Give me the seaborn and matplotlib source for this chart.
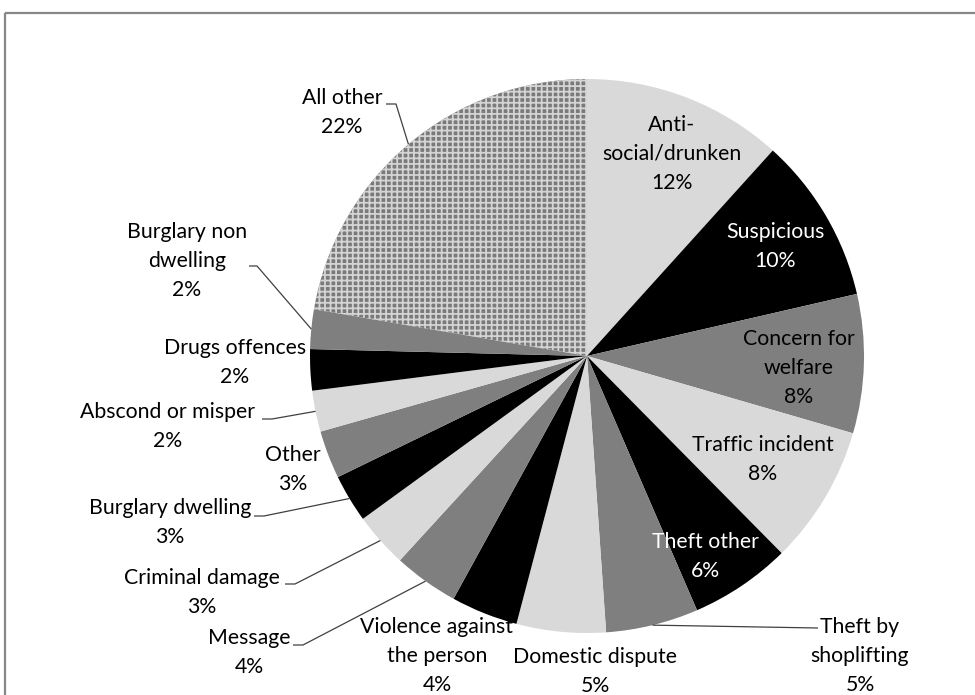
import matplotlib
matplotlib.use("Agg")
import matplotlib.pyplot as plt
from matplotlib.patches import Rectangle
import numpy as np
import seaborn as sns

# ---- data ----
categories = ["Anti-\nsocial/drunken", "Suspicious", "Concern for\nwelfare", "Traffic incident",
              "Theft other", "Theft by\nshoplifting", "Domestic dispute",
              "Violence against\nthe person", "Message", "Criminal damage",
              "Burglary dwelling", "Other", "Abscond or misper", "Drugs offences",
              "Burglary non\ndwelling", "All other"]
values = [11.7, 9.7, 8.1, 8.1, 5.9, 5.4, 5.2, 3.9, 3.8, 3.2, 2.8, 2.8, 2.4, 2.4, 2.3, 22.3]

# ---- style ----
sns.set_theme(style="white")
plt.rcParams["font.family"] = ["Lato", "DejaVu Sans"]
plt.rcParams["hatch.linewidth"] = 1.3

LIGHT, BLACK, GREY = "#d9d9d9", "#000000", "#7f7f7f"
colors = [LIGHT, BLACK, GREY] * 5 + ["#7f7f7f"]
text_colors = ["#000000"] * 16
text_colors[1] = "white"
text_colors[4] = "white"

# label layout (pixel coords, first line centre)
label_pos = [(672, 125), (775, 232), (799, 339), (763, 445), (705, 542), (860, 627),
             (595, 657), (437, 627), (249, 638), (202, 578), (170, 508), (293, 455),
             (168, 412), (235, 348), (187, 232), (342, 98)]
# leader lines: index -> (start point near text, elbow x)
leaders = {15: ((386, 104), 396), 14: ((249, 266), 257), 12: ((262, 419), 272),
           10: ((254, 516), 264), 9: ((285, 584), 295), 8: ((293, 645), 303),
           5: ((818, 628), 818)}
LINE_PITCH = 29
CX, CY, R = 587, 356, 277

fig = plt.figure(figsize=(9.75, 6.95), dpi=100)
ax = fig.add_axes([0, 0, 1, 1])
wedges, _ = ax.pie(values, colors=colors, startangle=-90, counterclock=True,
                   center=(CX, CY), radius=R, wedgeprops=dict(linewidth=0),
                   frame=False)
# patterned "All other"
w = wedges[-1]
w.set_facecolor("#7a7a7a")
w.set_edgecolor("#d4d4d4")
w.set_linewidth(0)
w.set_hatch("+++")

ax.set_xlim(0, 975)
ax.set_ylim(695, 0)
ax.set_aspect("equal")
ax.axis("off")

fs = 15.3
for i, (cat, v) in enumerate(zip(categories, values)):
    lines = cat.split("\n") + [f"{round(v)}%"]
    x0, y0 = label_pos[i]
    for k, ln in enumerate(lines):
        ax.text(x0, y0 + k * LINE_PITCH, ln, ha="center", va="center",
                fontsize=fs, color=text_colors[i])
    if i in leaders:
        (sx, sy), ex = leaders[i]
        wd = wedges[i]
        mid = np.deg2rad((wd.theta1 + wd.theta2) / 2)
        px, py = CX + R * np.cos(mid), CY + R * np.sin(mid)
        ax.plot([sx, ex, px], [sy, sy, py], color="#404040", lw=0.9,
                solid_capstyle="butt")

ax.add_patch(Rectangle((4.5, 12.5), 1200, 1200, fill=False,
                       edgecolor="#878787", lw=1.6))

fig.savefig("out.png", dpi=100)
